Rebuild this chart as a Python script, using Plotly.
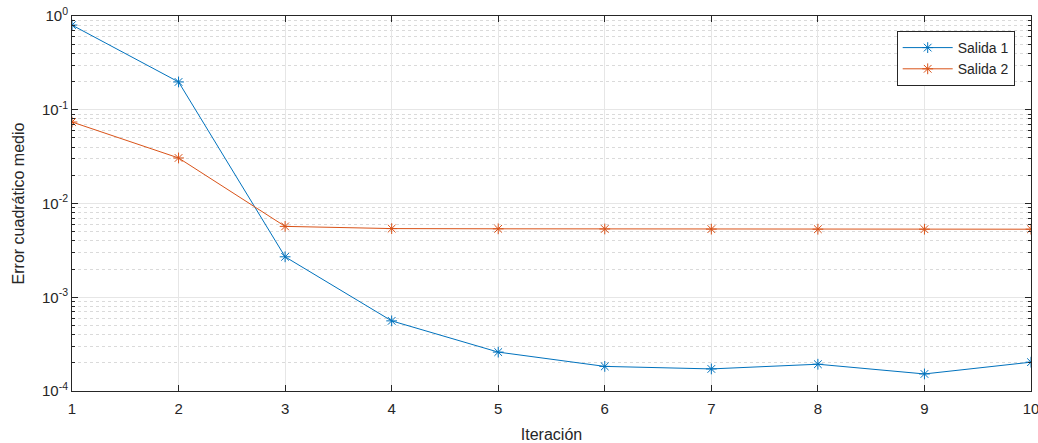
import plotly.graph_objects as go

iteraciones = [1, 2, 3, 4, 5, 6, 7, 8, 9, 10]
salida1 = [0.80, 0.198, 0.0027, 5.6e-4, 2.6e-4, 1.83e-4, 1.72e-4, 1.93e-4, 1.52e-4, 2.03e-4]
salida2 = [0.074, 0.0306, 0.0057, 0.0054, 0.00537, 0.00535, 0.00533, 0.00532, 0.00532, 0.00532]
ytick_vals = [1e-4, 1e-3, 1e-2, 1e-1, 1]
ytick_text = ["10<sup>-4</sup>", "10<sup>-3</sup>", "10<sup>-2</sup>", "10<sup>-1</sup>", "10<sup>0</sup>"]
minor_vals = [m * d for d in [1e-4, 1e-3, 1e-2, 1e-1] for m in range(2, 10)]

fig = go.Figure()
fig.add_trace(go.Scatter(x=iteraciones, y=salida1, mode="lines+markers", name="Salida 1",
                         line=dict(color="#0072BD", width=1),
                         marker=dict(symbol="asterisk-open", size=9, color="#0072BD",
                                     line=dict(color="#0072BD", width=1))))
fig.add_trace(go.Scatter(x=iteraciones, y=salida2, mode="lines+markers", name="Salida 2",
                         line=dict(color="#D95319", width=1),
                         marker=dict(symbol="asterisk-open", size=9, color="#D95319",
                                     line=dict(color="#D95319", width=1))))

font_t = "Liberation Sans, Arial"
axis_common = dict(showline=True, linecolor="#262626", linewidth=1, mirror="allticks",
                   ticks="inside", ticklen=6, tickcolor="#262626",
                   showgrid=True, gridcolor="#E6E6E6", gridwidth=1, zeroline=False,
                   ticklabeloverflow="allow", automargin=False,
                   tickfont=dict(family=font_t, size=15, color="#262626"))

fig.update_xaxes(range=[1, 10], tickvals=iteraciones, ticklabelstandoff=4,
                 title=dict(text="Iteración", standoff=13,
                 font=dict(family=font_t, size=16, color="#262626")), **axis_common)
fig.update_yaxes(type="log", range=[-4, 0], tickvals=ytick_vals, ticktext=ytick_text,
                 title=dict(text="Error cuadrático medio", standoff=13,
                            font=dict(family=font_t, size=16, color="#262626")),
                 minor=dict(tickmode="array", tickvals=minor_vals, ticks="inside", ticklen=3,
                            tickcolor="#262626", showgrid=True,
                            gridcolor="#DADADA", griddash="dot", gridwidth=1),
                 **axis_common)

fig.update_layout(width=1038, height=443, margin=dict(l=72, r=7, t=16, b=52),
                  plot_bgcolor="white", paper_bgcolor="white",
                  font=dict(family=font_t, size=14, color="#262626"),
                  legend=dict(x=0.983, y=0.96, xanchor="right", yanchor="top",
                              bgcolor="white", bordercolor="#262626", borderwidth=1,
                              itemwidth=50,
                              font=dict(size=14), tracegroupgap=0))

fig.write_html("out.html")
